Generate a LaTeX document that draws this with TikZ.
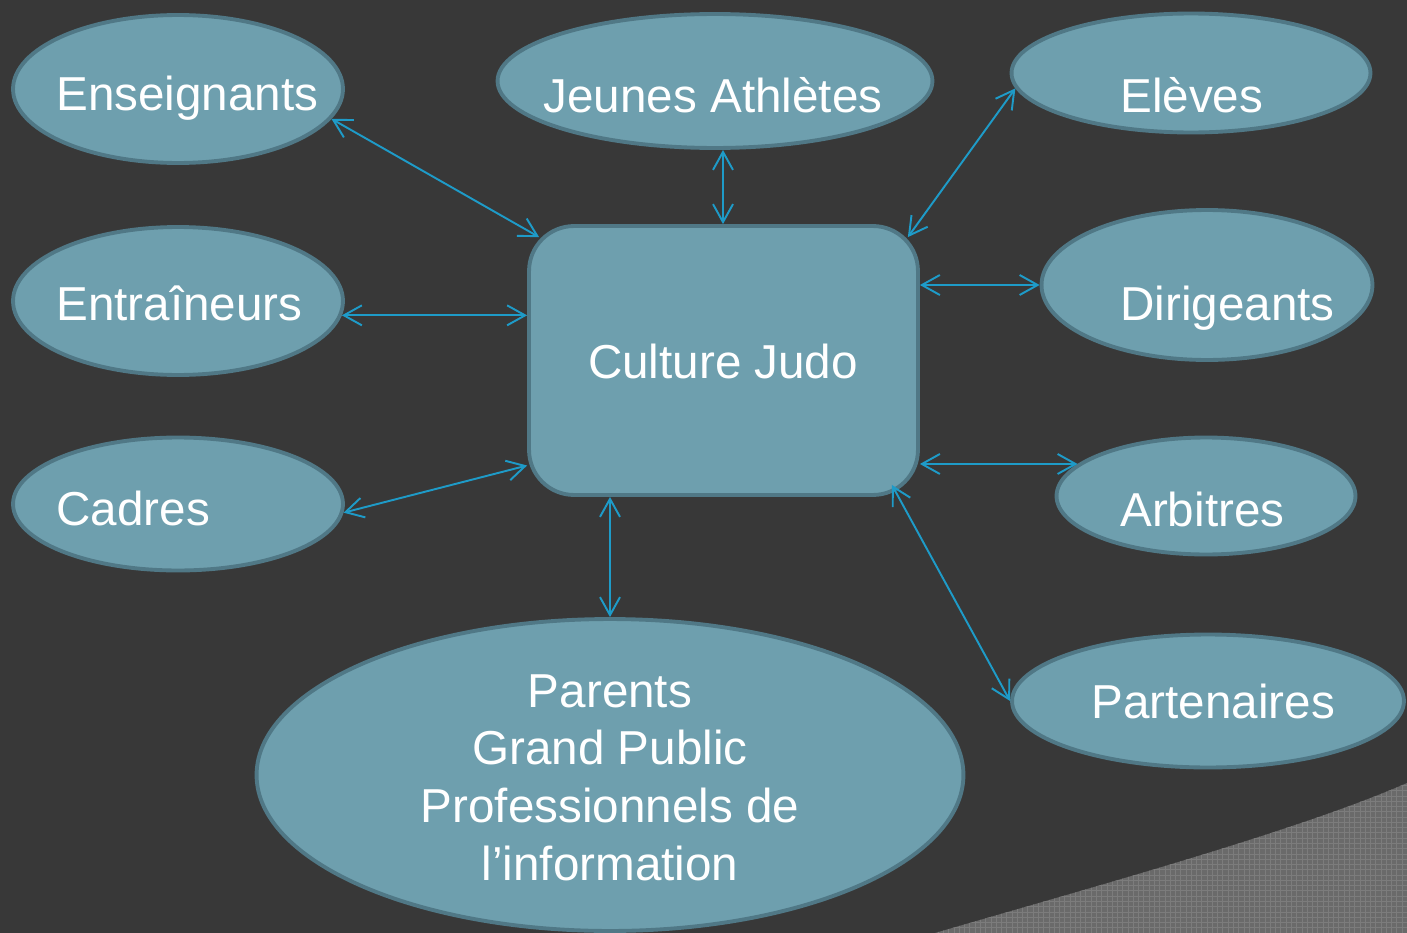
\documentclass[tikz,border=0pt]{standalone}
\usepackage{fontspec}
\setmainfont{Liberation Sans}
\usepackage{xcolor}
\usetikzlibrary{arrows.meta,shapes.geometric,patterns}

\definecolor{fond}{RGB}{56,56,56}
\definecolor{bulle}{RGB}{110,159,174}
\definecolor{bord}{RGB}{80,120,134}
\definecolor{lien}{RGB}{30,155,200}
\definecolor{trame}{RGB}{106,106,106}
\definecolor{trameligne}{RGB}{124,124,124}

\begin{document}
\begin{tikzpicture}[x=0.02cm, y=-0.02cm,
    acteur/.style={ellipse, fill=bulle, draw=bord, line width=2.2pt, inner sep=0pt},
    culture/.style={rectangle, rounded corners=0.9cm, fill=bulle, draw=bord, line width=2.2pt, inner sep=0pt},
    txt/.style={text=white, font=\fontsize{27.1}{32.8}\selectfont, inner sep=0pt},
    fleche/.style={lien, line width=1.1pt, {Straight Barb[length=3.6mm,width=4mm]}-{Straight Barb[length=3.6mm,width=4mm]}}]
    \useasboundingbox (0,0) rectangle (1407,933);
    \fill[fond] (0,0) rectangle (1407,933);
    % trame en bas a droite
    \fill[trame] (935,933) .. controls (1100,885) and (1300,830) .. (1407,783) -- (1407,933) -- cycle;
    \fill[pattern=grid, pattern color=trameligne] (935,933) .. controls (1100,885) and (1300,830) .. (1407,783) -- (1407,933) -- cycle;

    % bulles
    \node[acteur, minimum width=6.6cm, minimum height=2.96cm] (ens) at (178,89) {};
    \node[acteur, minimum width=8.7cm, minimum height=2.68cm] (jeu) at (715,81) {};
    \node[acteur, minimum width=7.18cm, minimum height=2.38cm] (ele) at (1191,73) {};
    \node[acteur, minimum width=6.6cm, minimum height=2.96cm] (ent) at (178,301) {};
    \node[acteur, minimum width=6.62cm, minimum height=3cm] (dir) at (1207,285) {};
    \node[acteur, minimum width=6.6cm, minimum height=2.66cm] (cad) at (178,504) {};
    \node[acteur, minimum width=5.98cm, minimum height=2.34cm] (arb) at (1206,496) {};
    \node[acteur, minimum width=7.84cm, minimum height=2.66cm] (par) at (1208,701) {};
    \node[acteur, minimum width=14.14cm, minimum height=6.24cm] (pub) at (610,775) {};
    \node[culture, minimum width=7.78cm, minimum height=5.38cm] (judo) at (723.5,360.5) {};

    % textes
    \node[txt, anchor=base west] (ens-t) at (56,110) {Enseignants};
    \node[txt, anchor=base] (jeu-t) at (713,112) {Jeunes Athlètes};
    \node[txt, anchor=base west] (ele-t) at (1120,112) {Elèves};
    \node[txt, anchor=base west] (ent-t) at (56,320) {Entraîneurs};
    \node[txt, anchor=base west] (dir-t) at (1120,320) {Dirigeants};
    \node[txt, anchor=base west] (cad-t) at (56,525) {Cadres};
    \node[txt, anchor=base west] (arb-t) at (1120,526) {Arbitres};
    \node[txt, anchor=base west] (par-t) at (1091,718) {Partenaires};
    \node[txt, anchor=base] (judo-t) at (723,378) {Culture Judo};
    \node[txt, align=center, anchor=base] (pub-t) at (610,880) {Parents\\Grand Public\\Professionnels de\\l’information};

    % liens
    \draw[fleche] (ens.-11) -- ([shift={(12,13)}]judo.north west);
    \draw[fleche] ([shift={(-0.5,0)}]jeu.south -| judo.north) -- ([shift={(-0.5,0)}]judo.north);
    \draw[fleche] (ele.185) -- ([shift={(-12,13)}]judo.north east);
    \draw[fleche] (ent.-5) -- (ent.-5 -| judo.west);
    \draw[fleche] (dir.west -| judo.east) -- (dir.west);
    \draw[fleche] (cad.-3) -- ([shift={(0,105)}]judo.west);
    \draw[fleche] (arb.166 -| judo.east) -- (arb.166);
    \draw[fleche] (pub.north |- judo.south) -- (pub.north);
    \draw[fleche] ([shift={(-28,-12)}]judo.south east) -- (par.west);
\end{tikzpicture}
\end{document}
